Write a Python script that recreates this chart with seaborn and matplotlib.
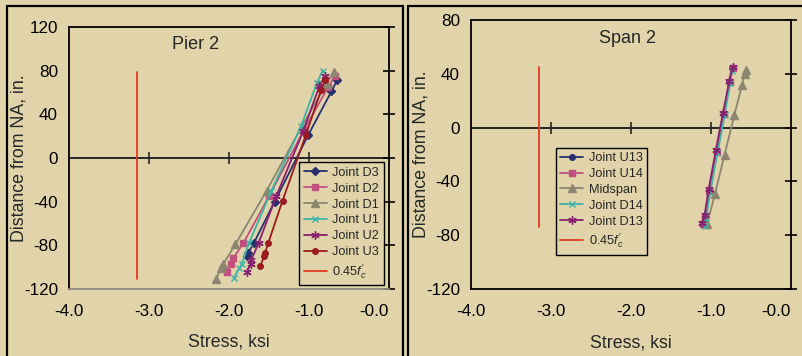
import numpy as np
import pandas as pd
import seaborn as sns
import matplotlib.pyplot as plt
from matplotlib.patches import Rectangle
from matplotlib.ticker import FuncFormatter

# Pier 2 data (stress ksi, depth in.)
pier_names = ['Joint D3', 'Joint D2', 'Joint D1', 'Joint U1', 'Joint U2', 'Joint U3']
pier_depth = {
    'Joint D3': [71, 61, 21, -40, -78, -87, -90],
    'Joint D2': [75, 65, 26, -35, -78, -92, -97, -104],
    'Joint D1': [79, 68, 29, -30, -79, -97, -101, -111],
    'Joint U1': [80, 69, 29, -30, -78, -97, -101, -110],
    'Joint U2': [75, 66, 25, -35, -78, -93, -97, -104],
    'Joint U3': [71, 62, 21, -39, -78, -87, -90, -99],
}
pier_stress = {
    'Joint D3': [-0.65, -0.72, -1.01, -1.43, -1.69, -1.76, -1.78],
    'Joint D2': [-0.68, -0.76, -1.06, -1.50, -1.82, -1.95, -1.97, -2.03],
    'Joint D1': [-0.69, -0.78, -1.09, -1.53, -1.92, -2.07, -2.10, -2.16],
    'Joint U1': [-0.83, -0.90, -1.10, -1.47, -1.75, -1.84, -1.87, -1.94],
    'Joint U2': [-0.80, -0.87, -1.07, -1.41, -1.63, -1.72, -1.73, -1.77],
    'Joint U3': [-0.80, -0.85, -1.04, -1.33, -1.51, -1.55, -1.56, -1.61],
}
pier_fc_stress = [-3.15, -3.15]
pier_fc_depth = [79, -111]

# Span 2 data
span_names = ['Joint U13', 'Joint U14', 'Midspan', 'Joint D14', 'Joint D13']
span_depth = {
    'Joint U13': [44, 34, 10, -18, -47, -66, -72],
    'Joint U14': [44, 34, 10, -18, -47, -66, -72],
    'Midspan': [43, 40, 32, 9, -20, -49, -72],
    'Joint D14': [42, 33, 9, -19, -48, -67, -73],
    'Joint D13': [45, 35, 11, -17, -46, -65, -71],
}
span_stress = {
    'Joint U13': [-0.74, -0.77, -0.84, -0.93, -1.01, -1.07, -1.09],
    'Joint U14': [-0.73, -0.76, -0.84, -0.93, -1.02, -1.08, -1.10],
    'Midspan': [-0.56, -0.58, -0.61, -0.71, -0.83, -0.95, -1.05],
    'Joint D14': [-0.74, -0.76, -0.83, -0.92, -1.01, -1.06, -1.08],
    'Joint D13': [-0.73, -0.77, -0.85, -0.94, -1.03, -1.08, -1.11],
}
span_fc_stress = [-3.15, -3.15]
span_fc_depth = [45, -74]

x_ticks = [-4.0, -3.0, -2.0, -1.0, 0.0]

bg = '#E1D4AA'
navy = '#27306E'
pink = '#C2507E'
gray = '#8C8670'
teal = '#3FB3A6'
purple = '#86206F'
darkred = '#9C1A1F'
red = '#E63A24'

pier_style = {
    'Joint D3': (navy, 'D', 4),
    'Joint D2': (pink, 's', 5),
    'Joint D1': (gray, '^', 5.5),
    'Joint U1': (teal, 'x', 5),
    'Joint U2': (purple, (6, 2, 0), 6),
    'Joint U3': (darkred, 'o', 4),
}
span_style = {
    'Joint U13': (navy, 'o', 4),
    'Joint U14': (pink, 's', 5),
    'Midspan': (gray, '^', 5.5),
    'Joint D14': (teal, 'x', 5),
    'Joint D13': (purple, (6, 2, 0), 6),
}

sns.set_theme(style='ticks')
plt.rcParams['font.family'] = ['Liberation Sans', 'DejaVu Sans']
plt.rcParams['mathtext.fontset'] = 'custom'
plt.rcParams['mathtext.it'] = 'Liberation Sans:italic'
plt.rcParams['mathtext.rm'] = 'Liberation Sans'
plt.rcParams['axes.unicode_minus'] = False

fig = plt.figure(figsize=(8.03, 3.56), dpi=100, facecolor=bg)
W, H = 803, 356

# panel frames
fig.patches.append(Rectangle((7 / W, -0.1), (403 - 7) / W, 1.1 - 6 / H, transform=fig.transFigure,
                             fill=False, edgecolor='black', linewidth=1.6))
fig.patches.append(Rectangle((408 / W, -0.1), 0.6, 1.1 - 6 / H, transform=fig.transFigure,
                             fill=False, edgecolor='black', linewidth=1.6))

ax1 = fig.add_axes([69 / W, 1 - 289 / H, 320 / W, (289 - 27) / H])
ax2 = fig.add_axes([471 / W, 1 - 289 / H, 320 / W, (289 - 20) / H])


def draw(ax, names, depth, stress, style, fc_x, fc_y, ylim, yticks, title, title_pos, leg_pos, bottom_col):
    ax.set_facecolor(bg)
    for n in names:
        c, m, ms = style[n]
        df = pd.DataFrame({'stress': stress[n], 'depth': depth[n]})
        sns.lineplot(data=df, x='stress', y='depth', sort=False, estimator=None, ax=ax,
                     color=c, marker=m, markersize=ms, mec=c, mew=1.0, linewidth=1.3, label=n)
    ax.plot(fc_x, fc_y, color=red, linewidth=1.3, label="0.45$f_c'$")
    ax.set_xlim(-4, 0)
    ax.set_ylim(*ylim)
    ax.set_xticks(x_ticks)
    ax.set_yticks(yticks)
    ax.xaxis.set_major_formatter(FuncFormatter(lambda v, p: '-0.0' if v == 0 else f'{v:.1f}'))
    ax.tick_params(axis='x', bottom=False, length=0, pad=11, labelsize=12.3, colors='black')
    ax.tick_params(axis='y', left=False, right=True, labelleft=True, labelright=False,
                   direction='inout', length=8, width=1.2, pad=4, labelsize=12.3, colors='black')
    # last x label sits inside like the original
    ax.xaxis.get_major_ticks()[-1].label1.set_horizontalalignment('right')
    for s in ax.spines.values():
        s.set_visible(True)
        s.set_color('black')
        s.set_linewidth(1.3)
    ax.spines['bottom'].set_color(bottom_col)
    sec = ax.secondary_xaxis((0 - ylim[0]) / (ylim[1] - ylim[0]))
    sec.set_xticks([-3.0, -2.0, -1.0])
    sec.tick_params(axis='x', direction='inout', length=8, width=1.2, labelbottom=False, labeltop=False)
    sec.spines['top'].set_linewidth(1.4)
    sec.spines['bottom'].set_linewidth(1.4)
    ax.set_xlabel('Stress, ksi', fontsize=12.8)
    ax.set_ylabel('Distance from NA, in.', fontsize=12.8)
    ax.xaxis.set_label_coords(0.5, -0.17)
    ax.yaxis.set_label_coords(-0.131, 0.5)
    ax.text(title_pos[0], title_pos[1], title, transform=ax.transAxes, ha='center', va='center', fontsize=13)
    leg = ax.legend(loc='upper left', bbox_to_anchor=leg_pos, fontsize=9.2, frameon=True, fancybox=False,
                    edgecolor='black', facecolor=bg, framealpha=1, handlelength=1.8, handletextpad=0.45,
                    labelspacing=0.3, borderpad=0.35, borderaxespad=0)
    leg.get_frame().set_linewidth(1.0)


draw(ax1, pier_names, pier_depth, pier_stress, pier_style, pier_fc_stress, pier_fc_depth,
     (-120, 120), [-120, -80, -40, 0, 40, 80, 120], 'Pier 2', (0.396, 0.935), (0.719, 0.483), '#8f8b7e')
draw(ax2, span_names, span_depth, span_stress, span_style, span_fc_stress, span_fc_depth,
     (-120, 80), [-120, -80, -40, 0, 40, 80], 'Span 2', (0.49, 0.93), (0.265, 0.525), 'black')

fig.savefig('out.png', dpi=100, facecolor=bg)
